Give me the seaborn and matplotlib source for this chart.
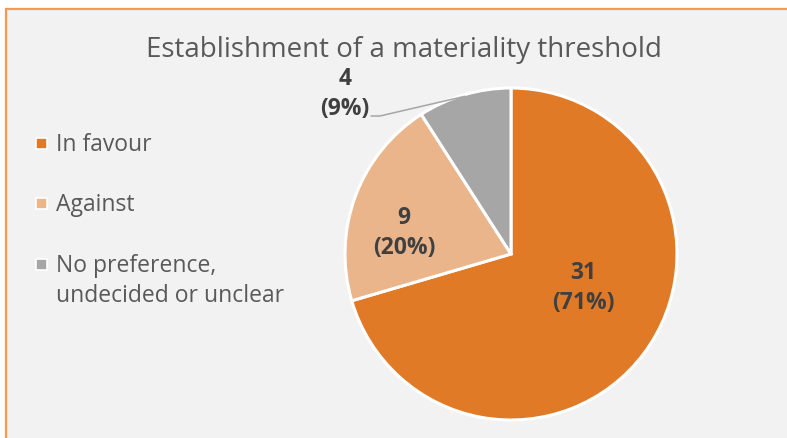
import matplotlib.pyplot as plt
from matplotlib.patches import Rectangle
import seaborn as sns
import numpy as np

# data
categories = ["In favour", "Against", "No preference,\nundecided or unclear"]
counts = [31, 9, 4]
percents = ["71%", "20%", "9%"]
colors = ["#E07A27", "#EAB58A", "#A6A6A6"]

sns.set_theme(style="white")
plt.rcParams["font.family"] = ["Open Sans", "DejaVu Sans"]

W, H = 787, 439
fig = plt.figure(figsize=(W / 100, H / 100), dpi=100)
fig.patch.set_facecolor("white")
ax = fig.add_axes([0, 0, 1, 1])

# chart area with orange border
ax.add_patch(Rectangle((6, -20), W + 20, H - 10 + 20, facecolor="#F2F2F2",
                       edgecolor="#F79A4E", linewidth=1.6, zorder=0))

palette = sns.color_palette(colors)
cx, cy, r = 511, H - 255, 166
wedges, _ = ax.pie(counts, colors=palette, startangle=90, counterclock=False,
                   center=(cx, cy), radius=r, frame=True,
                   wedgeprops=dict(edgecolor="white", linewidth=2.2))
ax.set_xlim(0, W)
ax.set_ylim(0, H)
ax.axis("off")

ax.text(404, H - 50, "Establishment of a materiality threshold", ha="center",
        va="center", fontsize=20, color="#595959")

lab_style = dict(ha="center", va="center", fontsize=16.5, fontweight="bold",
                 color="#404040", linespacing=1.35)
ax.text(583, H - 288, f"{counts[0]}\n({percents[0]})", **lab_style)
ax.text(404, H - 233, f"{counts[1]}\n({percents[1]})", **lab_style)
ax.text(345, H - 94, f"{counts[2]}\n({percents[2]})", **lab_style)

# leader line for small slice
th = np.deg2rad((wedges[2].theta1 + wedges[2].theta2) / 2)
ex, ey = cx + r * np.cos(th) * 0.99, cy + r * np.sin(th) * 0.99
ax.plot([371, 380, ex], [H - 117, H - 117, ey], color="#A6A6A6", lw=1.1)

# legend
for i, (lab, col) in enumerate(zip(categories, palette)):
    y = H - [145, 205, 266][i]
    ax.add_patch(Rectangle((36, y - 5), 11, 11, facecolor=col,
                           edgecolor="white", linewidth=1.2))
    lines = lab.split("\n")
    for j, line in enumerate(lines):
        ax.text(56, y - 30 * j, line, ha="left", va="center",
                fontsize=16.5, color="#595959")

fig.savefig("out.png", dpi=100)
